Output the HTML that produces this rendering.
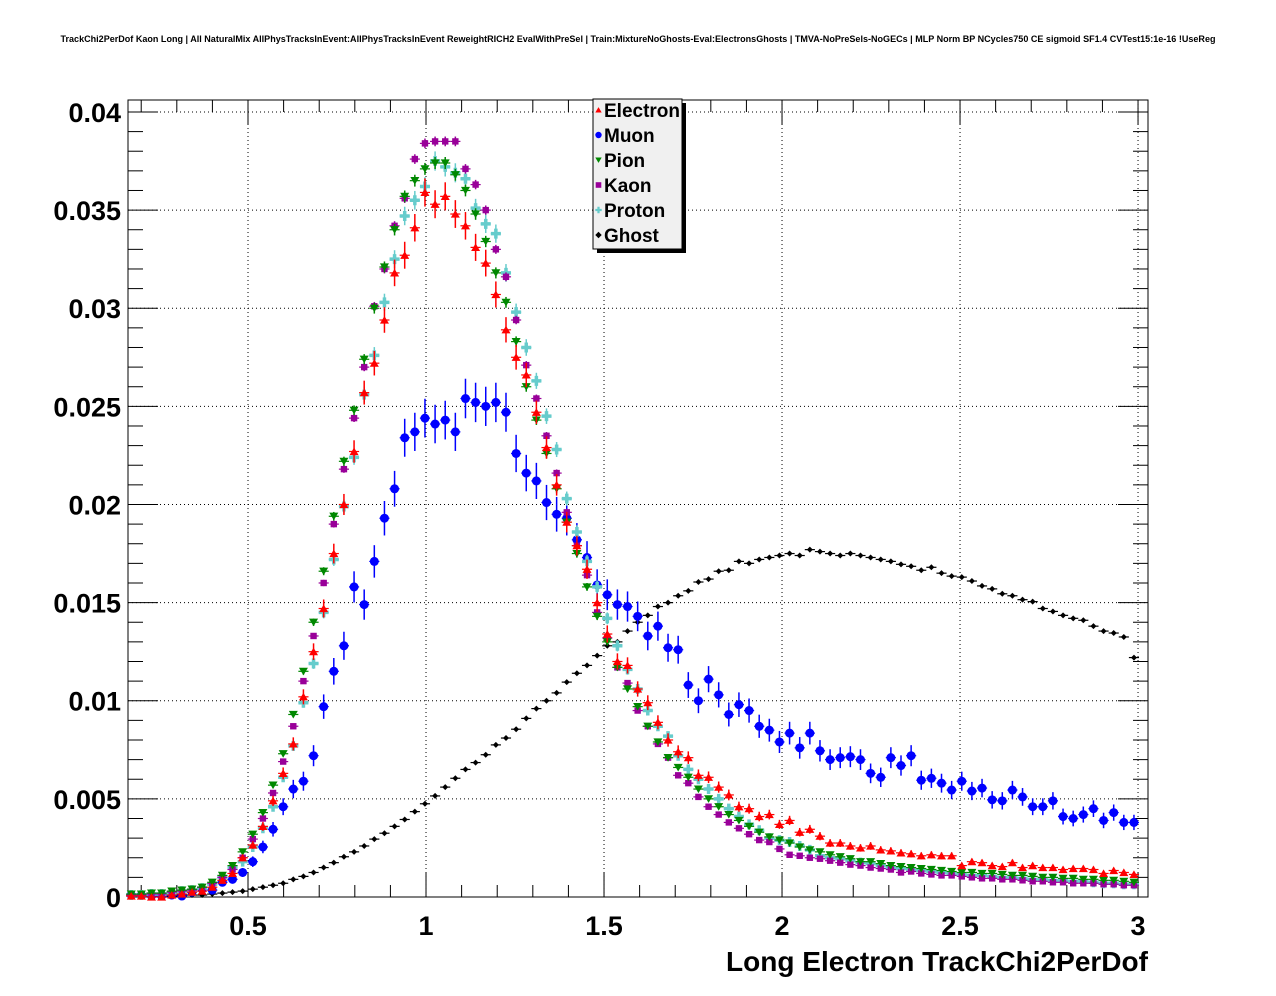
<!DOCTYPE html>
<html><head><meta charset="utf-8"><title>TrackChi2PerDof</title>
<style>
html,body{margin:0;padding:0;background:#fff;}
svg{display:block;font-family:"Liberation Sans",Arial,sans-serif;}
</style></head>
<body>
<svg id="chart" width="1276" height="996" viewBox="0 0 1276 996" xmlns="http://www.w3.org/2000/svg">
<rect x="0" y="0" width="1276" height="996" fill="#fff"/>
<text x="638" y="42" text-anchor="middle" font-size="9" font-weight="bold" textLength="1155" lengthAdjust="spacingAndGlyphs">TrackChi2PerDof Kaon Long | All NaturalMix AllPhysTracksInEvent:AllPhysTracksInEvent ReweightRICH2 EvalWithPreSel | Train:MixtureNoGhosts-Eval:ElectronsGhosts | TMVA-NoPreSels-NoGECs | MLP Norm BP NCycles750 CE sigmoid SF1.4 CVTest15:1e-16 !UseReg</text>
<g id="grid"></g>
<g id="axes"></g>
<g id="series"></g>
<text x="1148" y="971" text-anchor="end" font-size="28" font-weight="bold" textLength="422" lengthAdjust="spacingAndGlyphs">Long Electron TrackChi2PerDof</text>
<g id="legend">
<rect x="597" y="103" width="89" height="150" fill="#000"/>
<rect x="593" y="99" width="89" height="150" fill="#f0f0f0" stroke="#000" stroke-width="1"/>
</g>
</svg>
<script>
// ---- data (values in units of 1e-3) ----
const binCenterStart = 0.172;
const binWidth = 0.02845;
const xTicks = [0.5, 1, 1.5, 2, 2.5, 3];
const xTickLabels = ["0.5", "1", "1.5", "2", "2.5", "3"];
const yTicks = [0, 0.005, 0.01, 0.015, 0.02, 0.025, 0.03, 0.035, 0.04];
const yTickLabels = ["0", "0.005", "0.01", "0.015", "0.02", "0.025", "0.03", "0.035", "0.04"];
const seriesNames = ["Electron", "Muon", "Pion", "Kaon", "Proton", "Ghost"];

const electron = [0.05,0.05,0.0,0.0,0.1,0.15,0.25,0.3,0.5,0.85,
1.2,2.0,2.65,3.6,4.9,6.3,7.8,10.2,12.5,14.7,
17.5,20.0,22.7,25.7,27.2,29.4,31.8,32.7,34.1,35.9,
35.3,35.7,34.8,34.2,33.1,32.3,30.7,28.9,27.5,26.6,
24.7,22.9,21.0,19.1,17.9,16.7,15.0,13.4,12.0,11.8,
10.6,9.9,8.9,8.0,7.4,7.1,6.2,6.1,5.6,5.2,
4.6,4.5,4.1,4.2,3.7,3.9,3.3,3.45,3.1,2.75,
2.75,2.6,2.5,2.6,2.4,2.35,2.25,2.2,2.1,2.15,
2.1,2.1,1.6,1.8,1.75,1.6,1.55,1.75,1.5,1.6,
1.5,1.5,1.4,1.45,1.45,1.4,1.2,1.35,1.25,1.15];
const muon = [0.1,0.1,0.05,0.05,0.1,0.05,0.25,0.4,0.35,0.75,
0.9,1.25,1.8,2.55,3.45,4.6,5.5,5.9,7.2,9.7,
11.5,12.8,15.8,14.9,17.1,19.3,20.8,23.4,23.7,24.4,
24.1,24.3,23.7,25.4,25.2,25.0,25.2,24.7,22.6,21.6,
21.2,20.1,19.5,19.3,18.2,17.3,15.9,15.4,14.9,14.8,
14.3,13.3,13.8,12.7,12.6,10.8,10.0,11.1,10.3,9.3,
9.8,9.5,8.7,8.5,7.9,8.35,7.6,8.35,7.45,7.0,
7.1,7.15,7.0,6.3,6.1,7.1,6.7,7.2,5.95,6.05,
5.8,5.45,5.9,5.4,5.55,4.95,4.9,5.45,5.1,4.6,
4.6,4.9,4.1,4.0,4.2,4.5,3.9,4.3,3.8,3.8];
const pion = [0.15,0.15,0.2,0.2,0.3,0.35,0.4,0.5,0.75,1.1,
1.6,2.3,3.2,4.3,5.7,7.3,9.3,11.5,14.0,16.6,
19.4,22.2,24.8,27.4,30.0,32.1,34.0,35.7,36.5,37.1,
37.4,37.4,36.8,36.0,34.8,33.4,31.8,30.3,28.3,26.0,
24.3,22.6,20.8,19.1,17.5,15.8,14.3,13.0,11.7,10.6,
9.7,8.7,7.9,7.1,6.6,6.1,5.5,5.0,4.6,4.2,
3.9,3.6,3.3,3.06,2.9,2.75,2.55,2.4,2.3,2.15,
2.05,1.95,1.8,1.8,1.7,1.6,1.55,1.5,1.45,1.4,
1.35,1.3,1.25,1.25,1.2,1.2,1.15,1.1,1.1,1.05,
1.0,1.0,0.95,0.95,0.9,0.9,0.85,0.85,0.8,0.75];
const kaon = [0.1,0.1,0.15,0.15,0.25,0.3,0.35,0.5,0.7,1.0,
1.4,2.0,2.95,4.0,5.3,6.9,8.7,11.0,13.3,16.0,
19.0,21.8,24.4,27.0,30.1,32.0,34.2,35.6,37.6,38.4,
38.5,38.5,38.5,37.1,36.3,35.0,33.0,31.6,29.4,27.1,
25.4,23.5,21.6,19.6,17.9,16.4,14.5,13.2,11.7,10.9,
9.5,8.7,7.8,7.1,6.2,5.8,5.1,4.6,4.2,3.8,
3.5,3.2,2.9,2.8,2.45,2.15,2.1,2.0,1.95,1.85,
1.75,1.65,1.6,1.5,1.45,1.4,1.25,1.3,1.2,1.15,
1.1,1.1,1.05,1.0,0.95,0.95,0.9,0.9,0.85,0.8,
0.8,0.75,0.75,0.7,0.7,0.7,0.65,0.65,0.6,0.6];
const proton = [0.1,0.1,0.15,0.15,0.2,0.3,0.35,0.45,0.65,1.0,
1.5,1.8,2.55,3.5,4.6,6.1,7.7,9.9,11.9,14.5,
17.2,19.9,22.4,25.6,27.6,30.3,32.5,34.7,35.5,36.2,
37.5,37.2,36.9,36.6,35.1,34.3,33.8,31.8,29.8,28.0,
26.3,24.5,22.8,20.3,18.6,17.1,15.8,14.2,12.8,11.6,
10.6,9.5,8.7,8.2,7.2,6.5,6.0,5.5,5.0,4.5,
4.1,3.7,3.4,3.0,2.9,2.8,2.6,2.4,2.1,2.0,
1.95,1.85,1.75,1.7,1.6,1.5,1.45,1.4,1.35,1.3,
1.25,1.2,1.15,1.1,1.1,1.05,1.0,1.0,0.95,0.9,
0.9,0.85,0.85,0.8,0.8,0.75,0.7,0.7,0.65,0.65];
const ghost = [0.05,0.05,0.05,0.05,0.05,0.1,0.1,0.1,0.15,0.2,
0.25,0.3,0.4,0.5,0.6,0.7,0.9,1.05,1.25,1.5,
1.75,2.05,2.3,2.6,2.95,3.25,3.6,3.95,4.35,4.75,
5.15,5.6,6.05,6.5,6.85,7.25,7.75,8.1,8.55,9.1,
9.6,10.0,10.4,10.95,11.4,11.8,12.3,12.8,13.0,13.55,
14.0,14.35,14.8,15.0,15.35,15.6,16.05,16.2,16.6,16.65,
17.1,17.0,17.2,17.3,17.4,17.5,17.4,17.7,17.6,17.5,
17.4,17.5,17.4,17.3,17.2,17.1,16.95,16.85,16.65,16.8,
16.5,16.35,16.3,16.1,15.85,15.7,15.45,15.35,15.15,15.05,
14.7,14.55,14.35,14.2,14.1,13.8,13.55,13.45,13.25,12.2];

// ---- layout ----
const NS = "http://www.w3.org/2000/svg";
const frame = {l:128, r:1148, t:100, b:897};
const xMin = 0.1629, xMax = 3.028;
const yMin = 0, yMax = 0.04061;
function xs(v){ return frame.l + (v - xMin) / (xMax - xMin) * (frame.r - frame.l); }
function ys(v){ return frame.b - (v - yMin) / (yMax - yMin) * (frame.b - frame.t); }
function mk(tag, attrs, parent){
  const e = document.createElementNS(NS, tag);
  for (const k in attrs) e.setAttribute(k, attrs[k]);
  parent.appendChild(e);
  return e;
}
const gGrid = document.getElementById('grid');
const gAxes = document.getElementById('axes');
const gSeries = document.getElementById('series');
const gLegend = document.getElementById('legend');

xTicks.forEach(function(t){
  const x = xs(t);
  const l = mk('line', {x1:x, x2:x, y1:frame.t, y2:frame.b, stroke:'#000', 'stroke-width':1, 'stroke-dasharray':'1,3'}, gGrid);
  
  
});
yTicks.forEach(function(t){
  if (t === 0) return;
  const y = ys(t);
  const l = mk('line', {x1:frame.l, x2:frame.r, y1:y, y2:y, stroke:'#000', 'stroke-width':1, 'stroke-dasharray':'1,3'}, gGrid);
  
  
});

const fr = mk('rect', {x:frame.l, y:frame.t, width:frame.r-frame.l, height:frame.b-frame.t, fill:'none', stroke:'#000', 'stroke-width':1}, gAxes);



for (let i = 2; i <= 30; i++){
  const v = i / 10;
  if (v < xMin || v > xMax) continue;
  const x = xs(v);
  const major = (i % 5 === 0);
  const len = major ? 25 : 12;
  const t1 = mk('line', {x1:x, x2:x, y1:frame.b, y2:frame.b-len, stroke:'#000', 'stroke-width':1}, gAxes);
  
  
  const t2 = mk('line', {x1:x, x2:x, y1:frame.t, y2:frame.t+len, stroke:'#000', 'stroke-width':1}, gAxes);
  
  
}
xTicks.forEach(function(t, i){
  const tx = mk('text', {x:xs(t), y:935, 'text-anchor':'middle', 'font-size':27, 'font-weight':'bold'}, gAxes);
  tx.textContent = xTickLabels[i];
  
  
});
for (let i = 0; i <= 40; i++){
  const v = i * 0.001;
  if (v > yMax) continue;
  const y = ys(v);
  const major = (i % 5 === 0);
  const len = major ? 30 : 15;
  const t1 = mk('line', {x1:frame.l, x2:frame.l+len, y1:y, y2:y, stroke:'#000', 'stroke-width':1}, gAxes);
  
  
  const t2 = mk('line', {x1:frame.r, x2:frame.r-len, y1:y, y2:y, stroke:'#000', 'stroke-width':1}, gAxes);
  
  
}
yTicks.forEach(function(t, i){
  const tx = mk('text', {x:121, y:ys(t)+10, 'text-anchor':'end', 'font-size':27, 'font-weight':'bold'}, gAxes);
  tx.textContent = yTickLabels[i];
  
  
});

function marker(parent, type, x, y, color, s){
  let e;
  if (type === 'tri-up'){
    e = mk('polygon', {points:(x-s)+','+(y+s*0.8)+' '+(x+s)+','+(y+s*0.8)+' '+x+','+(y-s*0.9), fill:color}, parent);
  } else if (type === 'tri-down'){
    e = mk('polygon', {points:(x-s)+','+(y-s*0.8)+' '+(x+s)+','+(y-s*0.8)+' '+x+','+(y+s*0.9), fill:color}, parent);
  } else if (type === 'circle'){
    e = mk('circle', {cx:x, cy:y, r:s, fill:color}, parent);
  } else if (type === 'square'){
    e = mk('rect', {x:x-s, y:y-s, width:2*s, height:2*s, fill:color}, parent);
  } else if (type === 'cross'){
    e = mk('path', {d:'M'+(x-s)+' '+(y-s*0.35)+'h'+(s*0.65)+'v'+(-s*0.65)+'h'+(s*0.7)+'v'+(s*0.65)+'h'+(s*0.65)+'v'+(s*0.7)+'h'+(-s*0.65)+'v'+(s*0.65)+'h'+(-s*0.7)+'v'+(-s*0.65)+'h'+(-s*0.65)+'z', fill:color}, parent);
  } else {
    e = mk('polygon', {points:(x-s)+','+y+' '+x+','+(y-s)+' '+(x+s)+','+y+' '+x+','+(y+s), fill:color}, parent);
  }
  return e;
}

const seriesDefs = [
  {name:'electron', vals:electron, color:'#ff0000', type:'tri-up', size:4.5, errScale:0.12},
  {name:'muon', vals:muon, color:'#0000ff', type:'circle', size:4.5, errScale:0.2},
  {name:'pion', vals:pion, color:'#008800', type:'tri-down', size:4.5, errScale:0.05},
  {name:'kaon', vals:kaon, color:'#990099', type:'square', size:3.2, errScale:0.04},
  {name:'proton', vals:proton, color:'#66cccc', type:'cross', size:5, errScale:0.08},
  {name:'ghost', vals:ghost, color:'#000000', type:'diamond', size:3, errScale:0.02}
];
const drawOrder = [5, 1, 4, 3, 2, 0];
drawOrder.forEach(function(si){
  const d = seriesDefs[si];
  const g = mk('g', {}, gSeries);
  
  
  d.vals.forEach(function(v, k){
    const xc = binCenterStart + k * binWidth;
    const val = v / 1000;
    const err = d.errScale * Math.sqrt(Math.max(v, 0)) / 1000;
    const x = xs(xc), y = ys(val);
    const x0 = xs(xc - binWidth/2), x1 = xs(xc + binWidth/2);
    const h = mk('line', {x1:x0, x2:x1, y1:y, y2:y, stroke:d.color, 'stroke-width':1.2}, g);
    
    
    if (err > 0){
      const ve = mk('line', {x1:x, x2:x, y1:ys(val+err), y2:ys(Math.max(val-err,0)), stroke:d.color, 'stroke-width':1.5}, g);
      
      
    }
    const m = marker(g, d.type, x, y, d.color, d.size);
    
    
  });
});

const legendRowsY = [110, 135, 160, 185, 210, 235];
seriesDefs.forEach(function(d, i){
  const y = legendRowsY[i];
  const g = mk('g', {}, gLegend);
  
  
  const m = marker(g, d.type, 598.5, y, d.color, d.type === 'square' ? 2.8 : 3.2);
  
  
  const t = mk('text', {x:604, y:y+7, 'font-size':19, 'font-weight':'bold'}, g);
  t.textContent = seriesNames[i];
  
  
});
</script>
</body></html>
